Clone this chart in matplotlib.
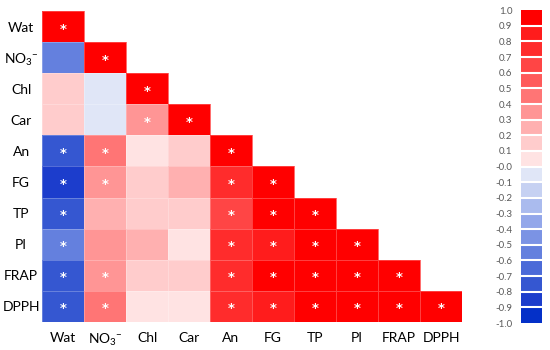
import numpy as np
import matplotlib
matplotlib.use("Agg")
import matplotlib.pyplot as plt
from matplotlib.colors import ListedColormap, BoundaryNorm

plt.rcParams['font.family'] = ['Lato', 'DejaVu Sans']
plt.rcParams['mathtext.fontset'] = 'custom'
plt.rcParams['mathtext.rm'] = 'Lato'
plt.rcParams['mathtext.default'] = 'regular'

# variables
labels = ['Wat', 'NO$_3$$^{-}$', 'Chl', 'Car', 'An', 'FG', 'TP', 'PI', 'FRAP', 'DPPH']

# lower triangle of the correlation matrix (row i has i+1 values)
corr_rows = [
    [1.0],
    [-0.55, 1.0],
    [0.15, -0.05, 1.0],
    [0.15, -0.05, 0.35, 1.0],
    [-0.75, 0.45, 0.05, 0.15, 1.0],
    [-0.85, 0.35, 0.15, 0.25, 0.75, 1.0],
    [-0.75, 0.25, 0.15, 0.15, 0.65, 0.95, 1.0],
    [-0.55, 0.35, 0.25, 0.05, 0.75, 0.85, 0.95, 1.0],
    [-0.75, 0.35, 0.15, 0.15, 0.75, 0.95, 0.95, 0.95, 1.0],
    [-0.75, 0.45, 0.05, 0.05, 0.75, 0.85, 0.95, 0.95, 0.95, 1.0],
]

# significance (1 = star)
sig_rows = [
    [1],
    [0, 1],
    [0, 0, 1],
    [0, 0, 1, 1],
    [1, 1, 0, 0, 1],
    [1, 1, 0, 0, 1, 1],
    [1, 0, 0, 0, 1, 1, 1],
    [1, 0, 0, 0, 1, 1, 1, 1],
    [1, 1, 0, 0, 1, 1, 1, 1, 1],
    [1, 1, 0, 0, 1, 1, 1, 1, 1, 1],
]

# colour of each 0.1 bin, from -1.0 up to 1.0
bin_colors = ['#0430C8', '#1C3DCC', '#3557D1', '#4B6AD8', '#6480DE',
              '#7B93E4', '#93A7EA', '#AABBEE', '#C6D1F2', '#E0E6F7',
              '#FFE3E3', '#FFCCCC', '#FFB0B0', '#FF9595', '#FF7575',
              '#FF5A5A', '#FF4545', '#FF2C2C', '#FF1C1C', '#FF0000']
bounds = np.round(np.arange(-1.0, 1.01, 0.1), 1)

n = len(labels)
mat = np.full((n, n), np.nan)
for i, row in enumerate(corr_rows):
    mat[i, :len(row)] = row
mat = np.ma.masked_invalid(mat)

cmap = ListedColormap(bin_colors)
norm = BoundaryNorm(bounds, cmap.N)

fig = plt.figure(figsize=(5.5, 3.5), dpi=100)
ax = fig.add_axes([0.0764, 0.08, 0.7636, 0.8886])
cax = fig.add_axes([0.947, 0.077, 0.038, 0.894])

mesh = ax.pcolormesh(np.arange(n + 1), np.arange(n + 1), mat, cmap=cmap, norm=norm,
                     edgecolors=(1, 1, 1, 0.25), linewidth=0.5)
ax.set_xlim(0, n)
ax.set_ylim(n, 0)

for i, row in enumerate(sig_rows):
    for j, s in enumerate(row):
        if s:
            ax.text(j + 0.5, i + 0.58, '*', color='white', ha='center', va='center',
                    fontsize=9.5, fontweight='bold', family='DejaVu Sans')

ax.set_xticks(np.arange(n) + 0.5)
ax.set_yticks(np.arange(n) + 0.5)
ax.set_xticklabels(labels, fontsize=10)
ax.set_yticklabels(labels, fontsize=10)
ax.tick_params(length=0)
ax.tick_params(axis='y', pad=15)
ax.tick_params(axis='x', pad=7)
for t in ax.get_yticklabels():
    t.set_horizontalalignment('center')
for s in ax.spines.values():
    s.set_visible(False)

cb = fig.colorbar(mesh, cax=cax, boundaries=bounds, ticks=bounds, drawedges=True)
cb.outline.set_visible(False)
cb.dividers.set_color('white')
cb.dividers.set_linewidth(1.5)
cax.yaxis.set_ticks_position('left')
cax.tick_params(length=0, pad=6, labelsize=7, labelcolor='#595959')
cax.set_yticklabels(['%.1f' % b for b in bounds])

fig.savefig('out.png', dpi=100)
